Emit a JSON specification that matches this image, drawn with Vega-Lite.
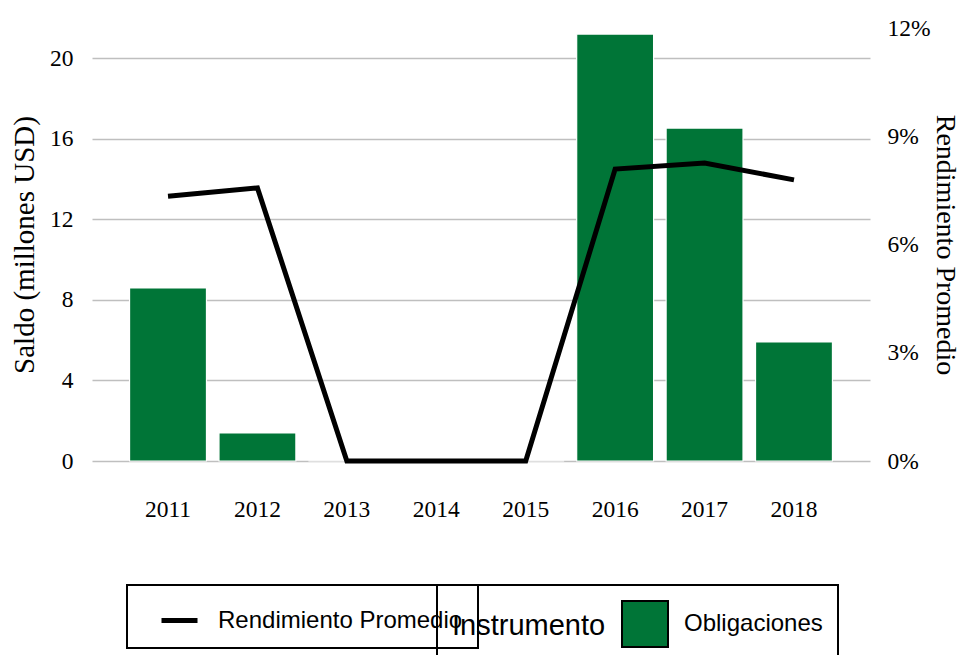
{
  "$schema": "https://vega.github.io/schema/vega-lite/v6.json",
  "width": 778,
  "height": 433,
  "autosize": {"type": "none"},
  "padding": {"left": 92, "top": 28, "right": 94, "bottom": 194},
  "background": "white",
  "config": {"view": {"stroke": null}, "font": "Liberation Serif", "legend": {"strokeWidth": 2}},
  "data": {"values": [
    {"year": "2011", "saldo": 8.59, "rend": 0.0734},
    {"year": "2012", "saldo": 1.39, "rend": 0.0757},
    {"year": "2013", "saldo": 0, "rend": 0},
    {"year": "2014", "saldo": 0, "rend": 0},
    {"year": "2015", "saldo": 0, "rend": 0},
    {"year": "2016", "saldo": 21.2, "rend": 0.0809},
    {"year": "2017", "saldo": 16.53, "rend": 0.0826},
    {"year": "2018", "saldo": 5.91, "rend": 0.0779}
  ]},
  "encoding": {
    "x": {"field": "year", "type": "nominal",
      "scale": {"paddingInner": 0.14, "paddingOuter": 0.42},
      "axis": {"title": null, "labelAngle": 0, "domain": false, "ticks": false, "labelFont": "Liberation Serif", "labelFontSize": 23.5, "labelColor": "black", "labelPadding": 36}}
  },
  "layer": [
    {
      "mark": {"type": "bar", "stroke": "white", "strokeWidth": 1.2},
      "encoding": {
        "y": {"field": "saldo", "type": "quantitative",
          "scale": {"domain": [0, 21.5], "nice": false},
          "axis": {"title": "Saldo (millones USD)", "values": [0, 4, 8, 12, 16, 20], "grid": true, "gridColor": "#bfbfbf", "gridWidth": 1.5, "domain": false, "ticks": false, "labelPadding": 19, "labelFont": "Liberation Serif", "labelFontSize": 23.5, "labelColor": "black", "titleFont": "Liberation Serif", "titleFontSize": 29, "titleFontWeight": "normal", "titleColor": "black", "titlePadding": 10}},
        "fill": {"datum": "Obligaciones", "type": "nominal",
          "scale": {"domain": ["Obligaciones"], "range": ["#007537"]},
          "legend": {"title": "Instrumento", "orient": "none", "legendX": 345, "legendY": 557, "direction": "horizontal", "titleOrient": "left", "titleFont": "Liberation Sans", "titleFontSize": 29, "titleFontWeight": "normal", "titleColor": "black", "labelFont": "Liberation Sans", "labelFontSize": 24, "labelColor": "black", "labelLimit": 0, "symbolType": "square", "symbolSize": 2116, "symbolStrokeColor": "black", "symbolStrokeWidth": 2, "strokeColor": "black", "padding": 15, "titlePadding": 15, "labelOffset": 15}}
      }
    },
    {
      "mark": {"type": "line", "strokeWidth": 5},
      "encoding": {
        "y": {"field": "rend", "type": "quantitative",
          "scale": {"domain": [0, 0.12], "nice": false},
          "axis": {"orient": "right", "title": "Rendimiento Promedio", "values": [0, 0.03, 0.06, 0.09, 0.12], "format": ".0%", "grid": false, "domain": false, "ticks": false, "labelPadding": 17, "labelFont": "Liberation Serif", "labelFontSize": 23.5, "labelColor": "black", "titleFont": "Liberation Serif", "titleFontSize": 28, "titleFontWeight": "normal", "titleColor": "black", "titlePadding": 0}},
        "stroke": {"datum": "Rendimiento Promedio", "type": "nominal",
          "scale": {"domain": ["Rendimiento Promedio"], "range": ["black"]},
          "legend": {"title": null, "orient": "none", "legendX": 35, "legendY": 557, "symbolType": "stroke", "symbolSize": 1296, "symbolStrokeWidth": 5, "labelFont": "Liberation Sans", "labelFontSize": 24, "labelColor": "black", "labelLimit": 0, "strokeColor": "black", "padding": 15, "symbolOffset": 17, "labelOffset": 18}}
      }
    }
  ],
  "resolve": {"scale": {"y": "independent"}}
}
